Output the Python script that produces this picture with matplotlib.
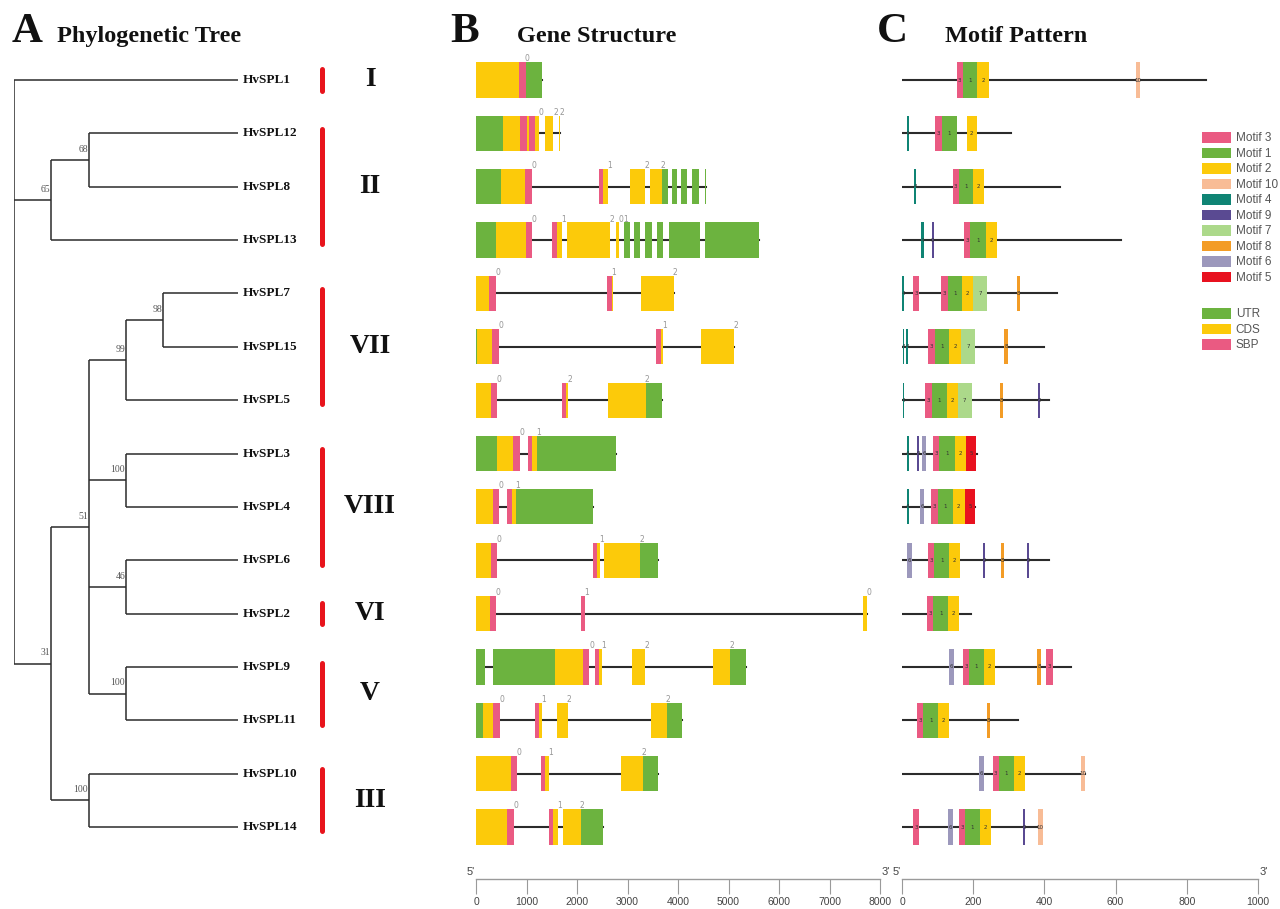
import matplotlib
matplotlib.use("Agg")
import matplotlib.pyplot as plt
from matplotlib.patches import Rectangle, Patch

# ------------------------------- data ------------------------------- #

newick = ("(HvSPL1,((HvSPL12,HvSPL8)68,HvSPL13)65,"
          "((((HvSPL7,HvSPL15)98,HvSPL5)99,(HvSPL3,HvSPL4)100,"
          "(HvSPL6,HvSPL2)46,(HvSPL9,HvSPL11)100)51,(HvSPL10,HvSPL14)100)31);")

groups = ["I", "II", "VII", "VIII", "VI", "V", "III"]
group_rows = [(0, 0), (1, 3), (4, 6), (7, 9), (10, 10), (11, 12), (13, 14)]

genes = ["HvSPL1", "HvSPL12", "HvSPL8", "HvSPL13", "HvSPL7", "HvSPL15", "HvSPL5",
         "HvSPL3", "HvSPL4", "HvSPL6", "HvSPL2", "HvSPL9", "HvSPL11", "HvSPL10", "HvSPL14"]

# exon pieces (start bp, end bp, U=UTR / C=CDS / S=SBP)
gene_segs = [
    [(0, 858, 'C'), (858, 990, 'S'), (990, 1300, 'U')],
    [(0, 528, 'U'), (528, 871, 'C'), (871, 1003, 'S'), (1003, 1056, 'C'), (1056, 1168, 'S'),
     (1168, 1247, 'C'), (1366, 1531, 'C'), (1643, 1670, 'C')],
    [(0, 488, 'U'), (488, 977, 'C'), (977, 1102, 'S'), (2429, 2521, 'S'), (2521, 2607, 'C'),
     (3056, 3346, 'C'), (3445, 3676, 'C'), (3676, 3795, 'U'), (3874, 3986, 'U'),
     (4059, 4184, 'U'), (4283, 4415, 'U'), (4534, 4554, 'U')],
    [(0, 396, 'U'), (396, 983, 'C'), (983, 1109, 'S'), (1511, 1597, 'S'), (1597, 1696, 'C'),
     (1795, 2653, 'C'), (2765, 2838, 'C'), (2937, 3049, 'U'), (3128, 3247, 'U'),
     (3353, 3478, 'U'), (3577, 3709, 'U'), (3821, 4435, 'U'), (4534, 5610, 'U')],
    [(0, 264, 'C'), (264, 396, 'S'), (2587, 2686, 'S'), (2686, 2706, 'C'), (3260, 3914, 'C')],
    [(0, 26, 'U'), (26, 323, 'C'), (323, 449, 'S'), (3564, 3656, 'S'), (3656, 3696, 'C'),
     (4448, 5108, 'C')],
    [(0, 290, 'C'), (290, 409, 'S'), (1696, 1782, 'S'), (1782, 1815, 'C'), (2620, 3366, 'C'),
     (3366, 3683, 'U')],
    [(0, 422, 'U'), (422, 739, 'C'), (739, 871, 'S'), (1030, 1109, 'S'), (1109, 1214, 'C'),
     (1214, 2772, 'U')],
    [(0, 330, 'C'), (330, 455, 'S'), (620, 706, 'S'), (706, 792, 'C'), (792, 2323, 'U')],
    [(0, 297, 'C'), (297, 422, 'S'), (2310, 2402, 'S'), (2402, 2455, 'C'), (2541, 3247, 'C'),
     (3247, 3597, 'U')],
    [(0, 277, 'C'), (277, 403, 'S'), (2072, 2165, 'S'), (7669, 7748, 'C')],
    [(0, 178, 'U'), (343, 1558, 'U'), (1558, 2125, 'C'), (2125, 2244, 'S'), (2363, 2442, 'S'),
     (2442, 2488, 'C'), (3082, 3346, 'C'), (4699, 5029, 'C'), (5029, 5339, 'U')],
    [(0, 145, 'U'), (145, 337, 'C'), (337, 469, 'S'), (1162, 1254, 'S'), (1254, 1300, 'C'),
     (1597, 1815, 'C'), (3472, 3788, 'C'), (3788, 4072, 'U')],
    [(0, 693, 'C'), (693, 818, 'S'), (1287, 1373, 'S'), (1373, 1452, 'C'), (2878, 3307, 'C'),
     (3307, 3610, 'U')],
    [(0, 620, 'C'), (620, 752, 'S'), (1439, 1531, 'S'), (1531, 1617, 'C'), (1729, 2072, 'C'),
     (2072, 2521, 'U')],
]

# intron phase marks (bp, phase)
phase_marks = [
    [(1003, '0')],
    [(1287, '0'), (1577, '2'), (1703, '2')],
    [(1148, '0'), (2640, '1'), (3392, '2'), (3709, '2')],
    [(1148, '0'), (1742, '1'), (2686, '2'), (2864, '0'), (2970, '1')],
    [(429, '0'), (2719, '1'), (3940, '2')],
    [(488, '0'), (3736, '1'), (5148, '2')],
    [(462, '0'), (1861, '2'), (3392, '2')],
    [(904, '0'), (1234, '1')],
    [(488, '0'), (818, '1')],
    [(462, '0'), (2482, '1'), (3280, '2')],
    [(442, '0'), (2191, '1'), (7788, '0')],
    [(2290, '0'), (2534, '1'), (3379, '2'), (5062, '2')],
    [(508, '0'), (1333, '1'), (1848, '2'), (3808, '2')],
    [(858, '0'), (1485, '1'), (3333, '2')],
    [(785, '0'), (1650, '1'), (2105, '2')],
]

protein_len = [854, 306, 444, 614, 436, 400, 414, 210, 205, 413, 193, 476, 327, 514, 390]

# motif hits (start aa, end aa, motif number)
motif_segs = [
    [(154, 170, 3), (170, 212, 1), (212, 243, 2), (657, 669, 10)],
    [(13, 19, 4), (94, 112, 3), (112, 154, 1), (182, 210, 2)],
    [(35, 40, 4), (142, 159, 3), (159, 200, 1), (200, 231, 2)],
    [(54, 61, 4), (83, 90, 9), (175, 191, 3), (191, 236, 1), (236, 266, 2)],
    [(1, 7, 4), (30, 48, 3), (109, 128, 3), (128, 169, 1), (169, 200, 2), (200, 240, 7), (323, 331, 8)],
    [(2, 7, 4), (11, 17, 4), (74, 93, 3), (93, 133, 1), (133, 165, 2), (165, 205, 7), (287, 297, 8)],
    [(2, 7, 4), (65, 83, 3), (83, 125, 1), (125, 156, 2), (156, 196, 7), (275, 283, 8), (382, 388, 9)],
    [(13, 19, 4), (43, 49, 9), (57, 67, 6), (88, 105, 3), (105, 149, 1), (149, 180, 2), (180, 208, 5)],
    [(13, 19, 4), (51, 62, 6), (82, 101, 3), (101, 142, 1), (142, 176, 2), (176, 206, 5)],
    [(15, 29, 6), (74, 90, 3), (90, 133, 1), (133, 163, 2), (227, 233, 9), (279, 287, 8), (351, 358, 9)],
    [(69, 88, 3), (88, 130, 1), (130, 161, 2)],
    [(131, 146, 6), (170, 189, 3), (189, 230, 1), (230, 260, 2), (380, 390, 8), (404, 423, 3)],
    [(43, 60, 3), (60, 102, 1), (102, 133, 2), (238, 246, 8)],
    [(215, 230, 6), (255, 272, 3), (272, 315, 1), (315, 345, 2), (503, 514, 10)],
    [(30, 49, 3), (128, 142, 6), (160, 177, 3), (177, 219, 1), (219, 249, 2), (339, 346, 9), (382, 395, 10)],
]

motif_order = [3, 1, 2, 10, 4, 9, 7, 8, 6, 5]
motif_colors = {3: '#ea5a82', 1: '#6cb33f', 2: '#fcca0a', 10: '#f8bc96', 4: '#0f8474',
                9: '#5a4a92', 7: '#acd98a', 8: '#f39c26', 6: '#9c98bc', 5: '#e8111f'}
part_colors = {'U': '#6cb33f', 'C': '#fcca0a', 'S': '#ea5a82'}
part_names = [('U', 'UTR'), ('C', 'CDS'), ('S', 'SBP')]

gene_ticks = [0, 1000, 2000, 3000, 4000, 5000, 6000, 7000, 8000]
motif_ticks = [0, 200, 400, 600, 800, 1000]

# ------------------------------ layout ------------------------------ #

W, H = 1280, 909
fig = plt.figure(figsize=(W / 100, H / 100), dpi=100)

row0, pitch = 80, 53.36          # pixel y of first row and row spacing
top_px, bot_px = 50, 879
ylim = ((bot_px - row0) / pitch, (top_px - row0) / pitch)


def axes_px(x0, x1):
    return fig.add_axes([x0 / W, 1 - bot_px / H, (x1 - x0) / W, (bot_px - top_px) / H])


serif = 'Liberation Serif'
narrow = ['Liberation Sans Narrow', 'Liberation Sans']
line_c = '#2b2b2b'
half = 0.33

# ---------------------------- tree panel ---------------------------- #

unit = 37.33
tax = axes_px(14, 440)
tax.set_xlim(0, (440 - 14) / unit)
tax.set_ylim(*ylim)
tax.axis('off')
leaf_depth = 6


def parse(s):
    pos = 0

    def node():
        nonlocal pos
        if s[pos] == '(':
            pos += 1
            kids = [node()]
            while s[pos] == ',':
                pos += 1
                kids.append(node())
            pos += 1
            lab = ''
            while pos < len(s) and s[pos] not in ',();':
                lab += s[pos]
                pos += 1
            return (lab, kids)
        lab = ''
        while s[pos] not in ',();':
            lab += s[pos]
            pos += 1
        return (lab, None)
    return node()


leaves = []


def draw(n, d):
    lab, kids = n
    if kids is None:
        leaves.append(lab)
        return len(leaves) - 1
    ys = [draw(k, d + 1) for k in kids]
    tax.plot([d, d], [min(ys), max(ys)], color=line_c, lw=1.1, solid_capstyle='butt')
    for k, ky in zip(kids, ys):
        kx = leaf_depth if k[1] is None else d + 1
        tax.plot([d, kx], [ky, ky], color=line_c, lw=1.1, solid_capstyle='butt')
    y = (min(ys) + max(ys)) / 2
    if lab:
        tax.text(d - 0.02, y - 0.2, lab, ha='right', va='center', fontsize=7,
                 family=serif, color='#555555')
    return y


draw(parse(newick), 0)
assert leaves == genes

for i, g in enumerate(genes):
    tax.text(leaf_depth + 0.13, i, g, ha='left', va='center', fontsize=9.5,
             family=serif, fontweight='bold', color='#111111')

bar_x = (322 - 14) / unit
lab_x = (370 - 14) / unit
for g, (a, b) in zip(groups, group_rows):
    pad = 0.2 if a == b else 0.08
    tax.plot([bar_x, bar_x], [a - pad, b + pad], color='#e8141c', lw=3.6,
             solid_capstyle='round')
    tax.text(lab_x, (a + b) / 2, g, ha='center', va='center', fontsize=20,
             family=serif, fontweight='bold', color='#111111')

# ---------------------------- gene panel ---------------------------- #

gax = axes_px(476, 880)
gax.set_xlim(gene_ticks[0], gene_ticks[-1])
gax.set_ylim(*ylim)

for i, segs in enumerate(gene_segs):
    gax.plot([0, segs[-1][1]], [i, i], color=line_c, lw=1.5, zorder=1)
    for s, e, k in segs:
        gax.add_patch(Rectangle((s, i - half), e - s, 2 * half, facecolor=part_colors[k],
                                edgecolor='none', zorder=2))
    for x, p in phase_marks[i]:
        gax.text(x, i - half + 0.02, p, ha='center', va='bottom', fontsize=5.5,
                 color='#959595', zorder=3)

# ---------------------------- motif panel --------------------------- #

max_ax = axes_px(902, 1258)
max_ax.set_xlim(motif_ticks[0], motif_ticks[-1])
max_ax.set_ylim(*ylim)

for i, segs in enumerate(motif_segs):
    max_ax.plot([0, protein_len[i]], [i, i], color=line_c, lw=1.5, zorder=1)
    for s, e, m in segs:
        max_ax.add_patch(Rectangle((s, i - half), e - s, 2 * half, facecolor=motif_colors[m],
                                   edgecolor='none', zorder=2))
        max_ax.text((s + e) / 2, i, str(m), ha='center', va='center', fontsize=4,
                    color='#333333', zorder=3)

leg_kw = dict(frameon=False, handlelength=2.45, handleheight=1.0,
              labelspacing=0.27, handletextpad=0.4, borderpad=0, borderaxespad=0,
              labelcolor='#555555', loc='upper left', bbox_transform=fig.transFigure,
              prop={'family': 'Liberation Sans', 'size': 8.5})
leg1 = max_ax.legend(handles=[Patch(facecolor=motif_colors[m], label=f'Motif {m}')
                              for m in motif_order],
                     bbox_to_anchor=(1202 / W, 1 - 132 / H), **leg_kw)
max_ax.add_artist(leg1)
max_ax.legend(handles=[Patch(facecolor=part_colors[k], label=n) for k, n in part_names],
              bbox_to_anchor=(1202 / W, 1 - 308 / H), **leg_kw)

# ------------------------------ scales ------------------------------ #

for ax, ticks in ((gax, gene_ticks), (max_ax, motif_ticks)):
    for sp in ('top', 'left', 'right'):
        ax.spines[sp].set_visible(False)
    ax.spines['bottom'].set_color('#9a9a9a')
    ax.spines['bottom'].set_linewidth(1.0)
    ax.set_yticks([])
    ax.set_xticks(ticks)
    ax.tick_params(axis='x', direction='out', length=11, width=0.8, color='#9a9a9a',
                   labelsize=7.5, labelcolor='#444444', pad=2)
    for t in ax.get_xticklabels():
        t.set_family(narrow)
    ax.text(-0.003, 0.002, "5'", transform=ax.transAxes, ha='right', va='bottom',
            fontsize=8, color='#444444', family=narrow)
    ax.text(1.003, 0.002, "3'", transform=ax.transAxes, ha='left', va='bottom',
            fontsize=8, color='#444444', family=narrow)

# ------------------------------ titles ------------------------------ #

for letter, lx, title, tx in (("A", 12, "Phylogenetic Tree", 57),
                              ("B", 450, "Gene Structure", 517),
                              ("C", 877, "Motif Pattern", 945)):
    fig.text(lx / W, 1 - 42 / H, letter, fontsize=31, family=serif, fontweight='bold',
             va='baseline', ha='left', color='#111111')
    fig.text(tx / W, 1 - 42 / H, title, fontsize=17.5, family=serif, fontweight='bold',
             va='baseline', ha='left', color='#111111')

fig.savefig('out.png', dpi=100)
